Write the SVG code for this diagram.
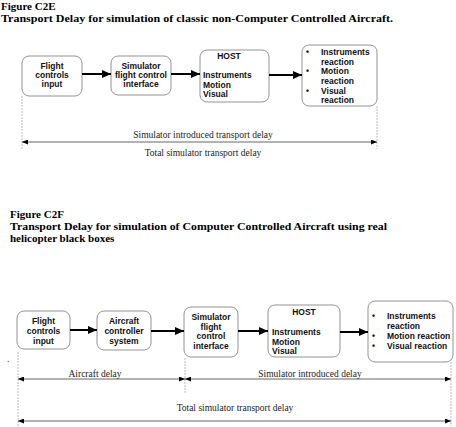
<svg xmlns="http://www.w3.org/2000/svg" width="456" height="427" viewBox="0 0 456 427">
<defs>
<style>
.title{font-family:"Liberation Serif","Times New Roman",serif;font-weight:bold;font-size:11px;fill:#000}
.box{fill:#fff;stroke:#777;stroke-width:0.8}
.bt{font-family:"Liberation Sans",Arial,sans-serif;font-weight:bold;font-size:8.5px;fill:#111}
.dim{font-family:"Liberation Serif","Times New Roman",serif;font-size:9.5px;fill:#222}
.flow{stroke:#000;stroke-width:2;fill:none}
.dl{stroke:#555;stroke-width:0.9;fill:none}
.ext{stroke:#aaa;stroke-width:0.8;stroke-dasharray:2 1;fill:none}
</style>
<marker id="ah" markerUnits="userSpaceOnUse" markerWidth="10" markerHeight="8" refX="9" refY="4" orient="auto">
<path d="M0,0 L9,4 L0,8 Z" fill="#000"/>
</marker>
<marker id="dh" markerUnits="userSpaceOnUse" markerWidth="7" markerHeight="5" refX="6" refY="2.5" orient="auto-start-reverse">
<path d="M0,0 L6,2.5 L0,5 Z" fill="#000"/>
</marker>
</defs>
<rect width="456" height="427" fill="#fff"/>

<!-- Titles -->
<text class="title" x="1" y="10">Figure C2E</text>
<text class="title" x="1" y="22" textLength="392" lengthAdjust="spacingAndGlyphs">Transport Delay for simulation of classic non-Computer Controlled Aircraft.</text>
<text class="title" x="10" y="218">Figure C2F</text>
<text class="title" x="10" y="230" textLength="377" lengthAdjust="spacingAndGlyphs">Transport Delay for simulation of Computer Controlled Aircraft using real</text>
<text class="title" x="10" y="242">helicopter black boxes</text>

<!-- Figure C2E nodes -->
<g id="e-flight-controls">
<rect class="box" x="22" y="56" width="60" height="40" rx="7"/>
<text class="bt" text-anchor="middle"><tspan x="52" y="69">Flight</tspan><tspan x="52" y="78">controls</tspan><tspan x="52" y="87">input</tspan></text>
</g>
<g id="e-sim-interface">
<rect class="box" x="111" y="56" width="60" height="39" rx="7"/>
<text class="bt" text-anchor="middle"><tspan x="141" y="69">Simulator</tspan><tspan x="141" y="78">flight control</tspan><tspan x="141" y="87">interface</tspan></text>
</g>
<g id="e-host">
<rect class="box" x="200" y="50" width="69" height="52" rx="7"/>
<text class="bt" x="229" y="59" text-anchor="middle">HOST</text>
<text class="bt"><tspan x="203" y="78">Instruments</tspan><tspan x="203" y="87.5">Motion</tspan><tspan x="203" y="97">Visual</tspan></text>
</g>
<g id="e-reaction">
<rect class="box" x="302" y="45" width="75" height="61" rx="7"/>
<text class="bt"><tspan x="306" y="55">•</tspan><tspan x="306" y="74">•</tspan><tspan x="306" y="93.5">•</tspan></text>
<text class="bt"><tspan x="321" y="55">Instruments</tspan><tspan x="321" y="64.5">reaction</tspan><tspan x="321" y="74">Motion</tspan><tspan x="321" y="83.5">reaction</tspan><tspan x="321" y="93.5">Visual</tspan><tspan x="321" y="103">reaction</tspan></text>
</g>

<!-- Figure C2F nodes -->
<g id="f-flight-controls">
<rect class="box" x="17" y="311" width="53" height="38" rx="7"/>
<text class="bt" text-anchor="middle"><tspan x="43.5" y="324">Flight</tspan><tspan x="43.5" y="334">controls</tspan><tspan x="43.5" y="344">input</tspan></text>
</g>
<g id="f-aircraft-controller">
<rect class="box" x="97" y="311" width="54" height="39" rx="7"/>
<text class="bt" text-anchor="middle"><tspan x="124" y="324">Aircraft</tspan><tspan x="124" y="334">controller</tspan><tspan x="124" y="344">system</tspan></text>
</g>
<g id="f-sim-interface">
<rect class="box" x="184" y="307" width="54" height="50" rx="7"/>
<text class="bt" text-anchor="middle"><tspan x="211" y="320">Simulator</tspan><tspan x="211" y="329.5">flight</tspan><tspan x="211" y="339">control</tspan><tspan x="211" y="348.5">interface</tspan></text>
</g>
<g id="f-host">
<rect class="box" x="268" y="305" width="72" height="52" rx="7"/>
<text class="bt" x="304" y="315" text-anchor="middle">HOST</text>
<text class="bt"><tspan x="272" y="335">Instruments</tspan><tspan x="272" y="344.5">Motion</tspan><tspan x="272" y="354">Visual</tspan></text>
</g>
<g id="f-reaction">
<rect class="box" x="368" y="301" width="85" height="61" rx="7"/>
<text class="bt"><tspan x="372" y="319">•</tspan><tspan x="372" y="339">•</tspan><tspan x="372" y="349">•</tspan></text>
<text class="bt"><tspan x="387" y="319">Instruments</tspan><tspan x="387" y="329">reaction</tspan><tspan x="387" y="339">Motion reaction</tspan><tspan x="387" y="349">Visual reaction</tspan></text>
</g>

<!-- Connectors -->
<g id="connectors">
<line class="flow" x1="82" y1="74" x2="111" y2="74" marker-end="url(#ah)"/>
<line class="flow" x1="171" y1="74" x2="200" y2="74" marker-end="url(#ah)"/>
<line class="flow" x1="269" y1="75" x2="302" y2="75" marker-end="url(#ah)"/>

<line class="flow" x1="70" y1="330" x2="97" y2="330" marker-end="url(#ah)"/>
<line class="flow" x1="151" y1="331" x2="184" y2="331" marker-end="url(#ah)"/>
<line class="flow" x1="238" y1="331" x2="268" y2="331" marker-end="url(#ah)"/>
<line class="flow" x1="340" y1="332" x2="368" y2="332" marker-end="url(#ah)"/>
</g>

<!-- Dimension lines C2E -->
<g id="e-dimensions">
<line class="ext" x1="22" y1="96" x2="22" y2="149"/>
<line class="ext" x1="377" y1="106" x2="377" y2="149"/>
<line class="dl" x1="22" y1="142" x2="377" y2="142" marker-start="url(#dh)" marker-end="url(#dh)"/>
<text class="dim" x="203" y="138" text-anchor="middle">Simulator introduced transport delay</text>
<text class="dim" x="203" y="156" text-anchor="middle">Total simulator transport delay</text>
</g>

<!-- Dimension lines C2F -->
<g id="f-dimensions">
<text class="dim" x="7" y="362">.</text>
<line class="ext" x1="18" y1="352" x2="18" y2="426"/>
<line class="ext" x1="185" y1="358" x2="185" y2="393"/>
<line class="ext" x1="451" y1="362" x2="451" y2="426"/>
<line class="dl" x1="18" y1="379" x2="185" y2="379" marker-start="url(#dh)" marker-end="url(#dh)"/>
<line class="dl" x1="185" y1="379" x2="451" y2="379" marker-start="url(#dh)" marker-end="url(#dh)"/>
<text class="dim" x="95" y="377" text-anchor="middle">Aircraft delay</text>
<text class="dim" x="310" y="377" text-anchor="middle">Simulator introduced delay</text>
<text class="dim" x="235" y="411" text-anchor="middle">Total simulator transport delay</text>
<line class="dl" x1="18" y1="421" x2="451" y2="421" marker-start="url(#dh)" marker-end="url(#dh)"/>
</g>
</svg>
